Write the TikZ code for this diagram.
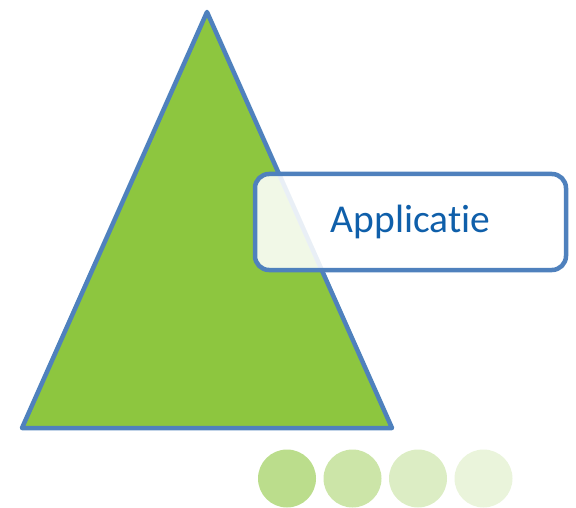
\documentclass[tikz,border=0pt]{standalone}
\usepackage{fontspec}
\setmainfont{Carlito}[Ligatures=NoCommon]
\usepackage{tikz}
\usetikzlibrary{positioning}
\definecolor{leafgreen}{HTML}{8DC63F}
\definecolor{edgeblue}{HTML}{4F81BD}
\definecolor{textblue}{HTML}{0F5FAA}

\begin{document}
\begin{tikzpicture}[x=1pt,y=1pt,line join=round,node distance=65.5pt,
	dot/.style={circle,minimum size=58pt,inner sep=0pt,fill=leafgreen},
	label box/.style={draw=edgeblue,line width=4.5pt,rounded corners=14pt,fill=white,fill opacity=0.88,text opacity=1,
		minimum width=311pt,minimum height=96pt,text=textblue,font=\fontsize{39.5}{46}\selectfont}]
		\useasboundingbox (0,0) rectangle (576,507);
		
		% triangle
		\coordinate (top) at (207,495);
		\coordinate (bl) at (22,79);
		\coordinate (br) at (392,79);
		\draw[edgeblue,line width=4.5pt,fill=leafgreen] (top) -- (bl) -- (br) -- cycle;
		
		\node[label box] (app) at (410.5,285) {Applicatie};
		
		% fading dots
		\node[dot,fill opacity=0.6] (d1) at (287,28.5) {};
		\node[dot,fill opacity=0.45] (d2) [right of=d1] {};
		\node[dot,fill opacity=0.31] (d3) [right of=d2] {};
		\node[dot,fill opacity=0.19] (d4) [right of=d3] {};
\end{tikzpicture}
\end{document}
